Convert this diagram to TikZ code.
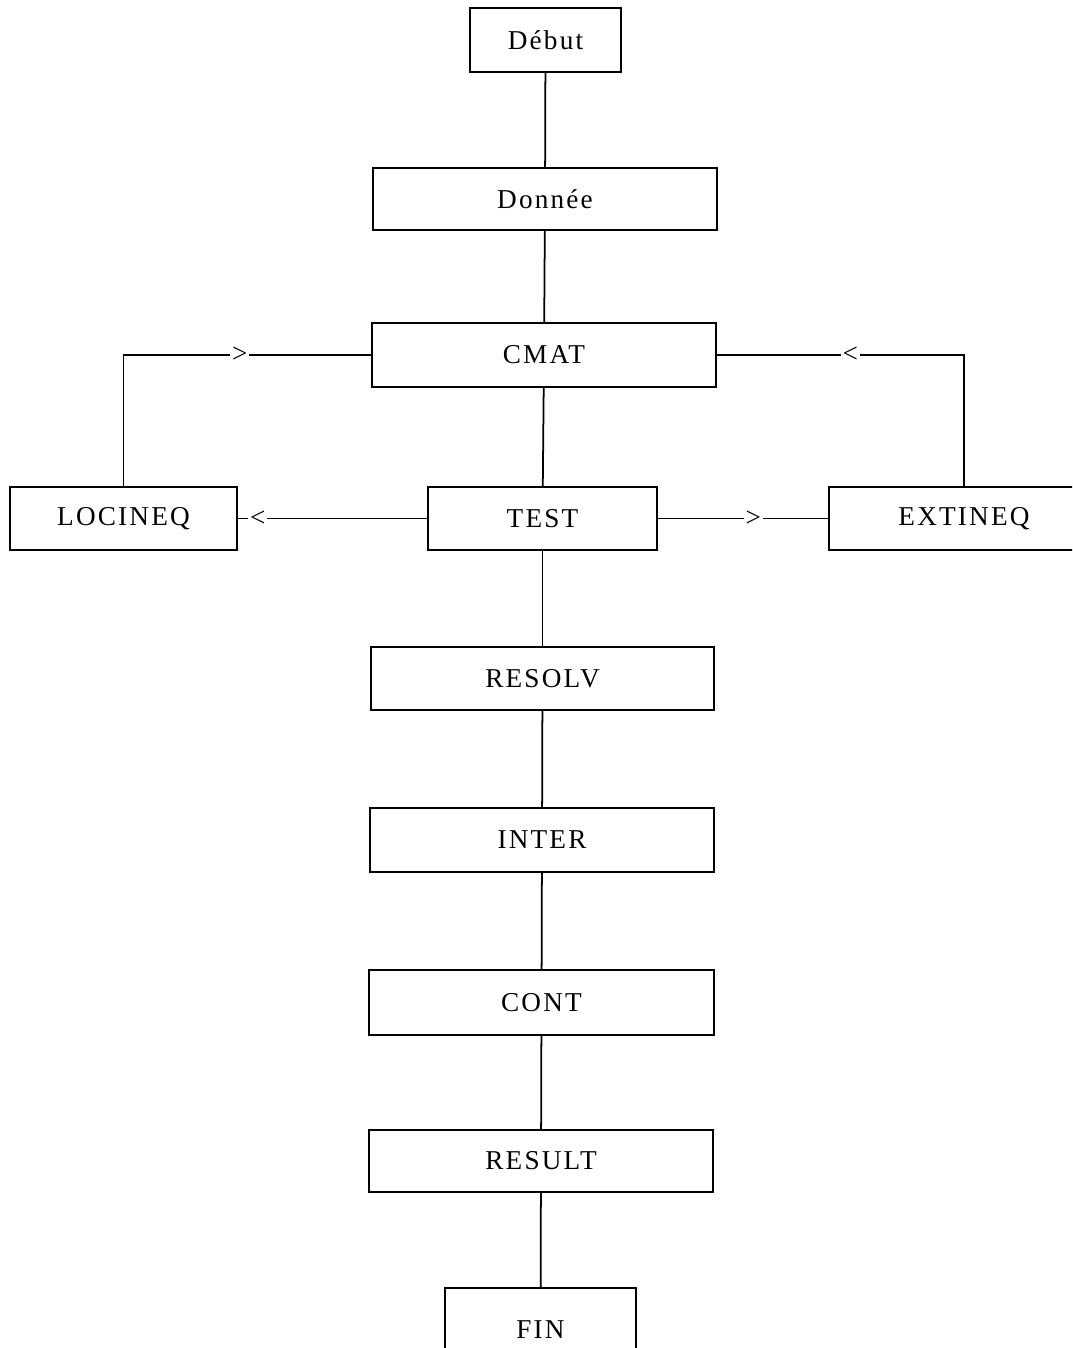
\documentclass[tikz,border=0pt]{standalone}
\usepackage{fontspec}
\setmainfont{Liberation Serif}[LetterSpace=8]
\usepackage{tikz}
\usetikzlibrary{positioning}

\tikzset{
	box/.style={draw,line width=1pt,inner sep=0pt,font=\fontsize{15.5}{18}\selectfont},
	link/.style={line width=1pt},
	dirmark/.style={fill=white,inner sep=1pt,font=\fontsize{15.5}{18}\selectfont}
}

\begin{document}
\begin{tikzpicture}[x=0.02cm,y=-0.02cm]
	\useasboundingbox (0,0) rectangle (1072,1348);
	\clip (0,0) rectangle (1072,1348);
	% main column
	\node[box,minimum width=3.02cm,minimum height=1.28cm] (debut) at (545.5,40) {Début};
	\node[box,minimum width=6.88cm,minimum height=1.24cm] (donnee) at (545,199) {Donnée};
	\node[box,minimum width=6.88cm,minimum height=1.28cm] (cmat) at (544,355) {CMAT};
	\node[box,minimum width=4.58cm,minimum height=1.26cm] (test) at (542.5,518.5) {TEST};
	\node[box,minimum width=4.54cm,minimum height=1.26cm] (locineq) at (123.5,518.5) {LOCINEQ};
	\node[box,minimum width=5.40cm,minimum height=1.26cm] (extineq) at (964,518.5) {EXTINEQ};
	\node[box,minimum width=6.86cm,minimum height=1.26cm] (resolv) at (542.5,678.5) {RESOLV};
	\node[box,minimum width=6.88cm,minimum height=1.28cm] (inter) at (542,840) {INTER};
	\node[box,minimum width=6.90cm,minimum height=1.30cm] (cont) at (541.5,1002.5) {CONT};
	\node[box,minimum width=6.88cm,minimum height=1.24cm] (result) at (541,1161) {RESULT};
	\node[box,minimum width=3.82cm,minimum height=1.68cm] (fin) at (540.5,1330) {FIN};
	% links
	\draw[link] (debut) -- (donnee);
	\draw[link] (donnee) -- (cmat);
	\draw[link] (cmat) -- (test);
	\draw[link] (test) -- (resolv);
	\draw[link] (resolv) -- (inter);
	\draw[link] (inter) -- (cont);
	\draw[link] (cont) -- (result);
	\draw[link] (result) -- (fin);
	% side loops
	\draw[link] (cmat.west) -| node[dirmark,pos=0.265] {>} (locineq.north);
	\draw[link] (cmat.east) -| node[dirmark,pos=0.27] {<} (extineq.north);
	\draw[link] (test.west) -- node[dirmark,pos=0.895] {<} (locineq.east);
	\draw[link] (test.east) -- node[dirmark,pos=0.56] {>} (extineq.west);
\end{tikzpicture}
\end{document}
